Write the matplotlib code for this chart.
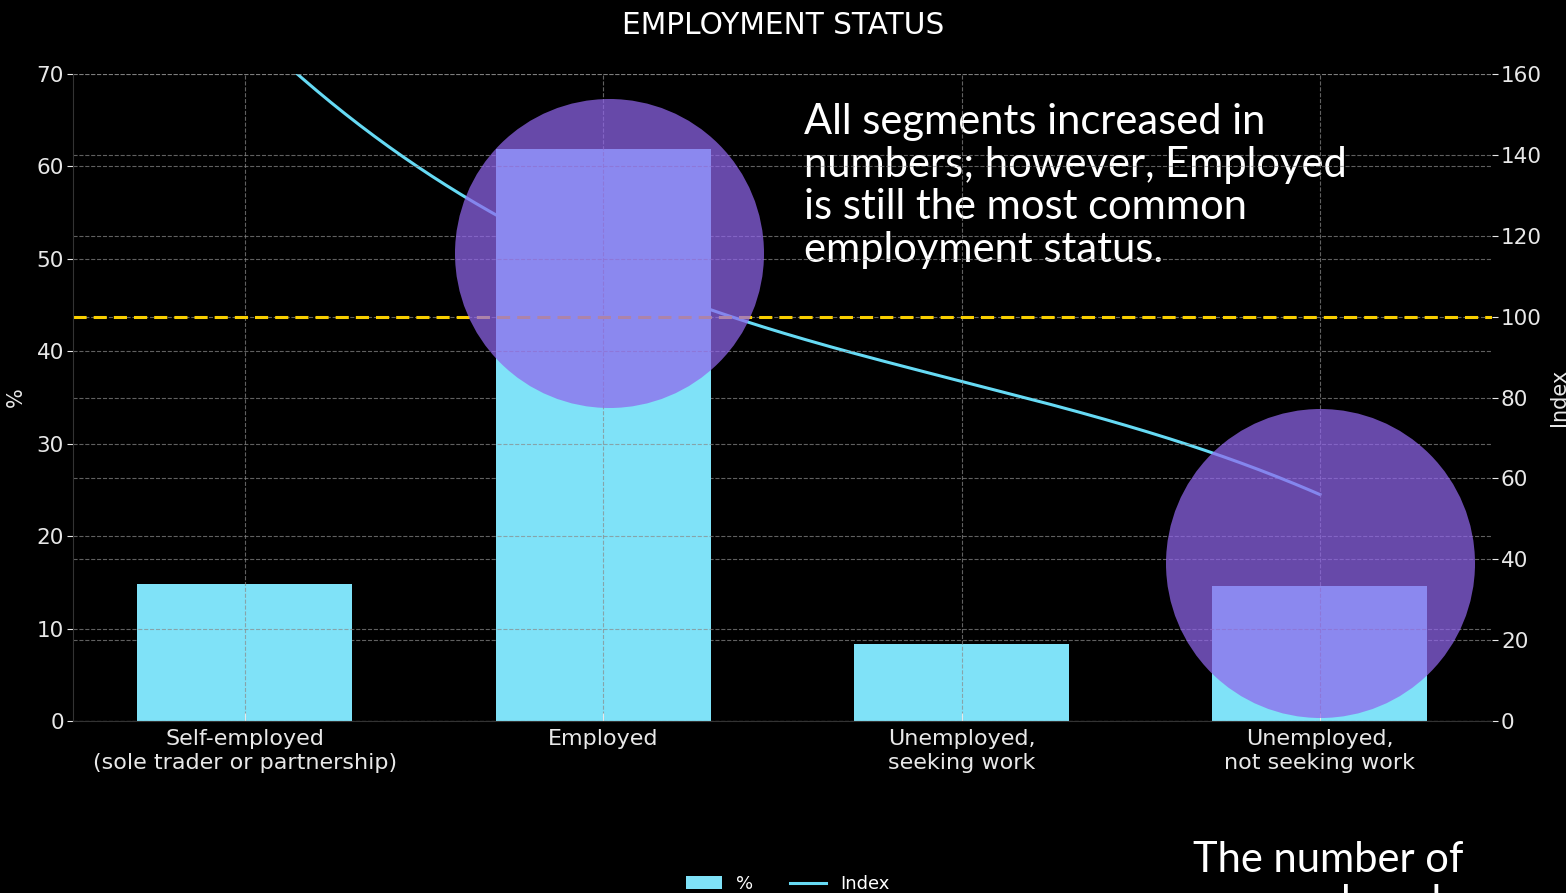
import matplotlib
matplotlib.use("Agg")
import matplotlib.pyplot as plt
import numpy as np

# categories and values
categories = ["Self-employed\n(sole trader or partnership)", "Employed",
              "Unemployed,\nseeking work", "Unemployed,\nnot seeking work"]
pct = [14.8, 61.9, 8.3, 14.6]
index = [172, 112, 84, 56]
index_base = 100

# highlight bubbles (category position, % value)
highlight_x = [1.015, 3.0]
highlight_y = [50.6, 17.1]

note_main = "All segments increased in\nnumbers; however, Employed\nis still the most common\nemployment status."
note_bottom = "The number of\nunemployed"

PCT_MAX = 70
IDX_MAX = 160

fig = plt.figure(figsize=(15.66, 8.93), dpi=100, facecolor="black")
ax = fig.add_axes([0.0466, 0.1926, 0.9061, 0.7245])
ax2 = ax.twinx()
# bars sit above the index line, so the left axes is drawn last
ax.set_zorder(ax2.get_zorder() + 1)
ax.patch.set_visible(False)
ax2.set_facecolor("black")

x = np.arange(len(categories))
bars = ax.bar(x, pct, width=0.6, color="#7FE2F8", label="%", zorder=1)
ax.set_xlim(-0.48, 3.48)
ax.set_ylim(0, PCT_MAX)
ax.set_yticks(np.arange(0, 71, 10))
ax.set_xticks(x)
ax.set_xticklabels(categories)
for lbl in ax.get_xticklabels():
    lbl.set_linespacing(1.3)
ax.grid(True, color="#8a8a8a", linestyle="--", linewidth=0.8, alpha=0.7)
ax.tick_params(axis="y", colors="#e8e8e8", labelsize=15.5, length=4.3, pad=2.2)
ax.tick_params(axis="x", colors="#e8e8e8", labelsize=16, direction="in", length=6, pad=5.5)
for t in ax.xaxis.get_ticklines():
    t.set_color("#222222")
for side in ["top", "right"]:
    ax.spines[side].set_visible(False)
for side in ["left", "bottom"]:
    ax.spines[side].set_color("#333333")
ax.set_ylabel("%", color="#e8e8e8", fontsize=15)
ax.yaxis.set_label_coords(-0.0331, 0.5)

# big note sits under the gridlines
ax.text(804 / 1566, 1 - 103 / 893, note_main, transform=fig.transFigure,
        ha="left", va="top", fontsize=30, family="Lato", color="white",
        linespacing=1.15, zorder=0.5, clip_on=False)
ax.text(1328 / 1566, 1 - 841 / 893, note_bottom, transform=fig.transFigure,
        ha="center", va="top", fontsize=30, family="Lato", color="white",
        linespacing=1.15, zorder=0.5, clip_on=False)

# baseline of the index, expressed on the % scale of the top axes
ax.axhline(index_base * PCT_MAX / IDX_MAX, color="#F9CF00", linestyle="--",
           dashes=(4.3, 2.3), linewidth=2.2, zorder=2)
ax.scatter(highlight_x, highlight_y, s=49500, color="#9066EC", alpha=0.72,
           linewidths=0, zorder=4)

ax2.set_ylim(0, IDX_MAX)
ax2.set_yticks(np.arange(0, 161, 20))
ax2.grid(True, axis="y", color="#8a8a8a", linestyle="--", linewidth=0.8, alpha=0.7)
ax2.tick_params(axis="y", colors="#e8e8e8", labelsize=15.5, length=4.3, pad=2.2)
for side in ["top", "right", "left", "bottom"]:
    ax2.spines[side].set_visible(False)
ax2.set_ylabel("Index", color="#e8e8e8", fontsize=15)
ax2.yaxis.set_label_coords(1.0402, 0.5)

# smooth curve through the index values
coef = np.polyfit(x, index, 3)
xs = np.linspace(0, 3, 300)
line, = ax2.plot(xs, np.polyval(coef, xs), color="#66DAF4", linewidth=2.2, label="Index", zorder=2)

fig.text(0.5, 1 - 25 / 893, "EMPLOYMENT STATUS", ha="center", va="center",
         fontsize=21.3, color="white")

ax.legend([bars, line], ["%", "Index"], loc="center", bbox_to_anchor=(0.503, 0.0101),
          bbox_transform=fig.transFigure, ncol=2, frameon=False, fontsize=13,
          labelcolor="white")

fig.savefig("out.png", dpi=100, facecolor="black")
